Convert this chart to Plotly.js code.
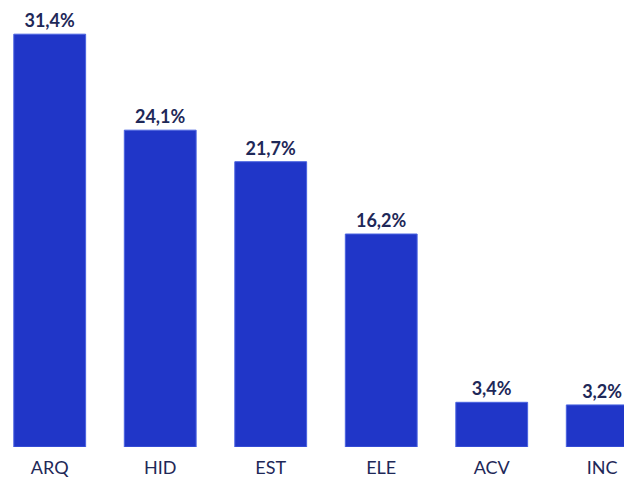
<!DOCTYPE html>
<html>
<head>
<meta charset="utf-8">
<script src="https://cdn.plot.ly/plotly-3.0.1.min.js"></script>
<style>
  html, body { margin: 0; padding: 0; background: #ffffff; }
  #chart { width: 624px; height: 478px; }
</style>
</head>
<body>
<div id="chart"></div>
<script>
const categories = ["ARQ", "HID", "EST", "ELE", "ACV", "INC"];
const values = [31.4, 24.1, 21.7, 16.2, 3.4, 3.2];

const trace = {
  type: "bar",
  x: categories,
  y: values,
  width: 0.65,
  marker: {
    color: "#2036c8",
    line: { color: "#4a63e0", width: 1 }
  },
  texttemplate: "%{y:.1f}%",
  textposition: "outside",
  cliponaxis: false,
  textfont: { family: "Lato", size: 18, color: "#1e2858", weight: 700 },
  hoverinfo: "none"
};

const layout = {
  width: 624,
  height: 478,
  margin: { l: 0, r: 0, t: 0, b: 31 },
  paper_bgcolor: "#ffffff",
  plot_bgcolor: "#ffffff",
  separators: ",.",
  showlegend: false,
  xaxis: {
    type: "category",
    range: [-0.45, 5.197],
    showgrid: false,
    zeroline: false,
    showline: false,
    ticks: "",
    ticklabelstandoff: 8,
    tickfont: { family: "Lato", size: 18, color: "#1e2858" },
    fixedrange: true
  },
  yaxis: {
    range: [0, 34],
    showgrid: false,
    zeroline: false,
    showline: false,
    showticklabels: false,
    ticks: "",
    fixedrange: true
  }
};

Plotly.newPlot("chart", [trace], layout, { displayModeBar: false, staticPlot: true });
</script>
</body>
</html>
